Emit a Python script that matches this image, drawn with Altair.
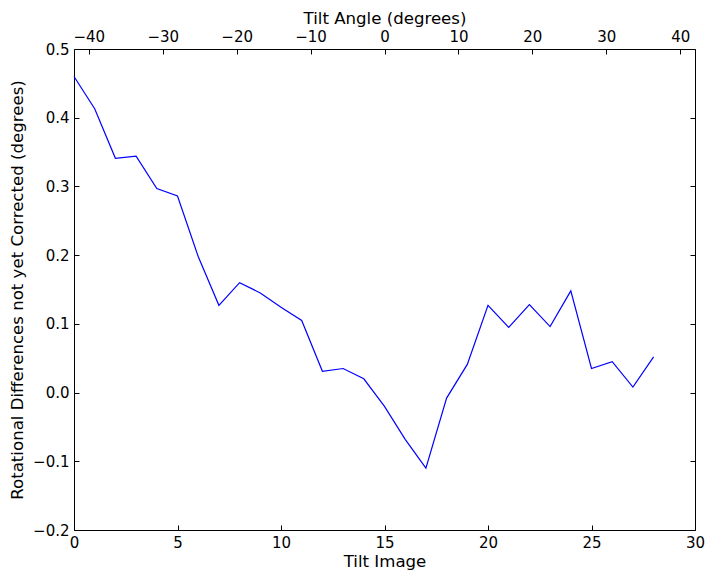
import altair as alt
import pandas as pd

tilt_image = [0, 1, 2, 3, 4, 5, 6, 7, 8, 9, 10, 11, 12, 13, 14, 15, 16, 17, 18, 19,
              20, 21, 22, 23, 24, 25, 26, 27, 28]
tilt_angle = [-42, -39, -36, -33, -30, -27, -24, -21, -18, -15, -12, -9, -6, -3, 0,
              3, 6, 9, 12, 15, 18, 21, 24, 27, 30, 33, 36, 39, 42]
rot_diff = [0.460, 0.413, 0.341, 0.344, 0.297, 0.286, 0.198, 0.127, 0.160, 0.145,
            0.124, 0.105, 0.031, 0.035, 0.020, -0.020, -0.068, -0.110, -0.008, 0.041,
            0.127, 0.095, 0.128, 0.096, 0.148, 0.035, 0.045, 0.008, 0.052]

bottom_ticks = [0, 5, 10, 15, 20, 25, 30]
top_ticks = [-40, -30, -20, -10, 0, 10, 20, 30, 40]
y_ticks = [-0.2, -0.1, 0.0, 0.1, 0.2, 0.3, 0.4, 0.5]

df = pd.DataFrame({"image": tilt_image, "angle": tilt_angle, "diff": rot_diff})

FONT = "DejaVu Sans"
MINUS = "replace(datum.label, '-', '\u2212')"
TICK_FS = 15
TITLE_FS = 16.6

common_axis = dict(
    grid=False, domain=False, tickSize=5, offset=-5, tickColor="black",
    tickWidth=1, labelFont=FONT, labelFontSize=TICK_FS, labelColor="black",
    titleFont=FONT, titleFontSize=TITLE_FS, titleFontWeight="normal",
    titleColor="black", labelExpr=MINUS, labelFlush=False, labelOverlap=False,
)

y_scale = alt.Scale(domain=[-0.2, 0.5], nice=False, zero=False)

line = alt.Chart(df).mark_line(color="#0000ff", strokeWidth=1.2).encode(
    x=alt.X("image:Q",
            scale=alt.Scale(domain=[0, 30], nice=False, zero=False),
            axis=alt.Axis(orient="bottom", values=bottom_ticks, title="Tilt Image",
                          labelPadding=5, titlePadding=3, **common_axis)),
    y=alt.Y("diff:Q", scale=y_scale,
            axis=alt.Axis(orient="left", values=y_ticks, format=".1f",
                          title="Rotational Differences not yet Corrected (degrees)",
                          labelPadding=5, titlePadding=7, **common_axis)),
)

top = alt.Chart(df).mark_line(opacity=0).encode(
    x=alt.X("angle:Q",
            scale=alt.Scale(domain=[-42, 42], nice=False, zero=False),
            axis=alt.Axis(orient="top", values=top_ticks, title="Tilt Angle (degrees)",
                          labelPadding=5, titlePadding=3, **common_axis)),
    y=alt.Y("diff:Q", scale=y_scale,
            axis=alt.Axis(orient="right", values=y_ticks, labels=False, title=None,
                          grid=False, domain=False, tickSize=5, offset=-5,
                          tickColor="black", tickWidth=1)),
)

chart = alt.layer(line, top).resolve_scale(x="independent").resolve_axis(
    x="independent", y="independent"
).properties(
    width=621, height=481,
    autosize=alt.AutoSizeParams(type="none"),
    padding={"left": 66, "top": 41, "right": 11, "bottom": 41},
    background="white",
).configure_view(stroke="black", strokeWidth=1)

chart.save("out.html", embed_options={"renderer": "svg", "actions": False})
